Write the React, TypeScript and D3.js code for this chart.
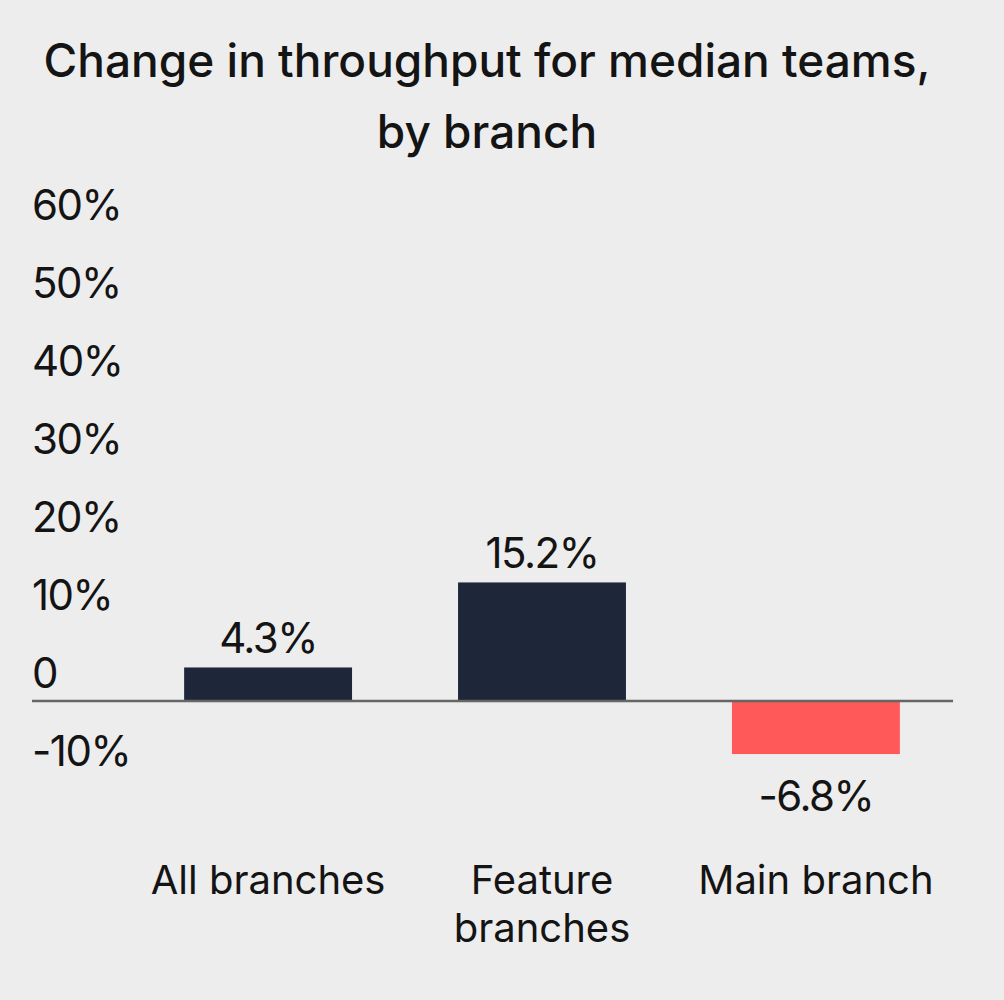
import React from "react";
import * as d3 from "d3";

const titleLines = ["Change in throughput for median teams,", "by branch"];
const categories = ["All branches", "Feature branches", "Main branch"];
const categoryLines = [["All branches"], ["Feature", "branches"], ["Main branch"]];
const values = [4.3, 15.2, -6.8];
const valueLabels = ["4.3%", "15.2%", "-6.8%"];
const yTicks = [-10, 0, 10, 20, 30, 40, 50, 60];
const yTickLabels = ["-10%", "0", "10%", "20%", "30%", "40%", "50%", "60%"];

const W = 1004;
const H = 1000;
const FONT = "Inter, 'Noto Sans', sans-serif";

export default function App() {
  const x = d3.scaleBand<string>().domain(categories).range([131, 953]).paddingInner(0.387).paddingOuter(0.194);
  const y = d3.scaleLinear().domain([-10, 60]).range([779, 233]);
  const bw = x.bandwidth();
  return (
    <svg width={W} height={H} style={{ position: "absolute", left: 0, top: 0, background: "#ededed" }}>
      <rect x={0} y={0} width={W} height={H} fill="#ededed" />
      {titleLines.map((t, i) => (
        <text key={t} x={487} y={77 + i * 71} textAnchor="middle" fontFamily={FONT} fontSize={46} fontWeight={500} fill="#141414">
          {t}
        </text>
      ))}
      {yTicks.map((v, i) => (
        <text key={v} x={32} y={y(v) - 13} fontFamily={FONT} fontSize={42} letterSpacing={-1.5} fill="#141414">
          {yTickLabels[i]}
        </text>
      ))}
      {categories.map((c, i) => {
        const v = values[i];
        const x0 = x(c)!;
        return (
          <g key={c}>
            <rect x={x0} y={y(Math.max(0, v))} width={bw} height={Math.abs(y(v) - y(0))} fill={v >= 0 ? "#1e273a" : "#ff5959"} />
            <text
              x={x0 + bw / 2}
              y={v >= 0 ? y(v) - 14 : y(v) + 57}
              textAnchor="middle"
              fontFamily={FONT}
              fontSize={42}
              letterSpacing={-1.5}
              fill="#141414"
            >
              {valueLabels[i]}
            </text>
            {categoryLines[i].map((l, j) => (
              <text key={l} x={x0 + bw / 2} y={894 + j * 48} textAnchor="middle" fontFamily={FONT} fontSize={40} fill="#141414">
                {l}
              </text>
            ))}
          </g>
        );
      })}
      <line x1={32} x2={953} y1={y(0)} y2={y(0)} stroke="#666666" strokeWidth={2.5} />
    </svg>
  );
}
